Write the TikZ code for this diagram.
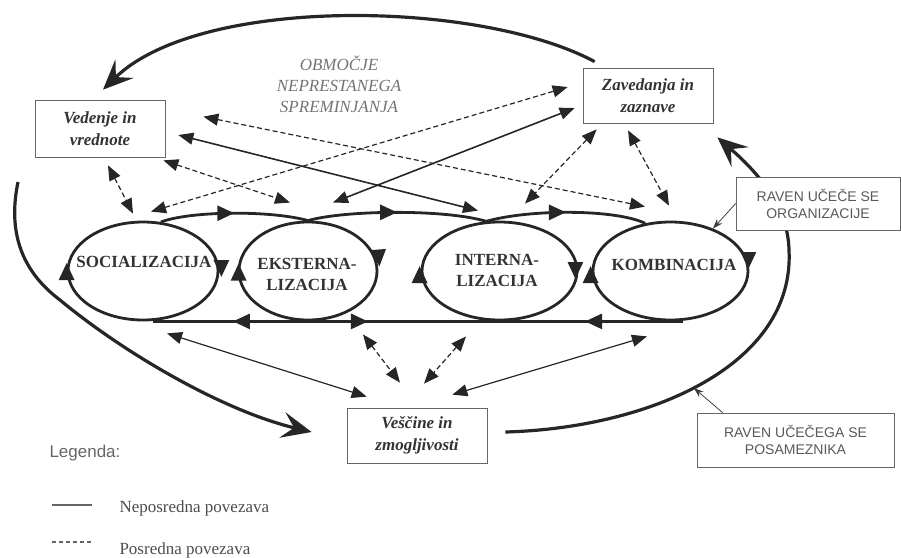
\documentclass[tikz,border=0pt]{standalone}
\usepackage{fontspec}
\setmainfont{Liberation Serif}
\setsansfont{Liberation Sans}
\usetikzlibrary{arrows.meta, shapes.geometric, decorations.markings, backgrounds}

\begin{document}
\begin{tikzpicture}[x=1pt, y=-1pt,
  box/.style={draw=black!60, line width=0.7pt, fill=white, inner sep=0pt, align=center, text=black!80, font=\fontsize{17}{22}\selectfont\itshape\bfseries},
  ravenbox/.style={draw=black!60, line width=0.7pt, fill=white, inner sep=0pt, align=center, text=black!65, font=\sffamily\fontsize{14}{17}\selectfont},
  cyc/.style={ellipse, draw=black!85, line width=2.8pt, inner sep=0pt, minimum height=98pt},
  cyclabel/.style={align=center, text=black!80, font=\fontsize{17}{21}\selectfont\bfseries},
  cyctip/.style={draw=black!85, line width=2.8pt, -{Triangle[length=17pt,width=15pt]}},
  flow/.style={draw=black!85, line width=2.8pt},
  midtip/.style={postaction={decorate}, decoration={markings, mark=at position 0.5 with {\arrow{Triangle[length=17pt,width=15pt]}}}},
  link/.style={draw=black!85, line width=1.6pt, {Triangle[length=15pt,width=12pt]}-{Triangle[length=15pt,width=12pt]}},
  thinlink/.style={link, line width=1.2pt},
  dashlink/.style={link, line width=1.2pt, dash pattern=on 5pt off 3pt},
  pointer/.style={draw=black!75, line width=0.8pt, -{Stealth[length=10pt,width=7pt]}},
  bigarc/.style={draw=black!85, line width=3.2pt, -{Stealth[length=30pt,width=26pt,inset=12pt]}}]
\useasboundingbox (0,0) rectangle (901,557);
\node[box, minimum width=130pt, minimum height=57pt] (ved) at (100,128.5) {Vedenje in\\vrednote};
\node[box, minimum width=130pt, minimum height=55pt] (zav) at (648,95.5) {Zavedanja in\\zaznave};
\node[box, minimum width=140pt, minimum height=55pt] (vesc) at (417,435.5) {Veščine in\\zmogljivosti};
\node[ravenbox, minimum width=164pt, minimum height=53pt] (organ) at (818,203.5) {RAVEN UČEČE SE\\ORGANIZACIJE};
\node[ravenbox, minimum width=197pt, minimum height=54pt] (posam) at (795.5,440) {RAVEN UČEČEGA SE\\POSAMEZNIKA};
\node[cyc, minimum width=150pt] (soc) at (143,271) {};
\node[cyc, minimum width=138pt] (eks) at (308,271) {};
\node[cyc, minimum width=155pt] (int) at (499.5,271) {};
\node[cyc, minimum width=155pt] (kom) at (670.5,271) {};
\node[cyclabel] (socT) at (144,262) {SOCIALIZACIJA};
\node[cyclabel] (eksT) at (307,274) {EKSTERNA-\\LIZACIJA};
\node[cyclabel] (intT) at (497,270) {INTERNA-\\LIZACIJA};
\node[cyclabel] (komT) at (674,265) {KOMBINACIJA};
\node[align=center, text=black!55, font=\fontsize{17}{21}\selectfont\itshape] (zone) at (339,84) {OBMOČJE\\NEPRESTANEGA\\SPREMINJANJA};
\coordinate (leftend) at (18,182);
\begin{scope}[on background layer]
\draw[bigarc] ([shift={(12,-6)}]zav.north west) .. controls (480,0) and (200,-5) .. ([shift={(3,-10)}]ved.north);
\draw[bigarc] (leftend) .. controls (8,230) and (20,270) .. (60,300) .. controls (120,350) and (220,410) .. ([shift={(-35,-3.5)}]vesc.west);
\draw[bigarc] ([shift={(18,-3.5)}]vesc.east) .. controls (650,428) and (795,365) .. (789,250) coordinate[pos=0.47] (hit) .. controls (788,205) and (755,170) .. ([shift={(4,14)}]zav.south east);
\end{scope}
\draw[pointer] (organ.west) -- (kom.45);
\draw[pointer] ([shift={(26,0)}]posam.north west) -- (hit);
\draw[flow, midtip] (soc.70) .. controls (190,211) and (270,210) .. (eks.north);
\draw[flow, midtip] (eks.north) .. controls (345,210) and (445,209) .. (int.105);
\draw[flow, midtip] (int.105) .. controls (530,209) and (615,209) .. (kom.118);
\draw[flow, postaction={decorate}, decoration={markings,
  mark=at position 0.151 with {\arrowreversed{Triangle[length=17pt,width=15pt]}},
  mark=at position 0.406 with {\arrow{Triangle[length=17pt,width=15pt]}},
  mark=at position 0.816 with {\arrowreversed{Triangle[length=17pt,width=15pt]}}}]
  ([shift={(10,0)}]soc.south) -- ([shift={(12,0)}]kom.south);
\draw[cyctip] ([shift={(0,6)}]soc.west) -- ([shift={(0,-8)}]soc.west);
\draw[cyctip] ([shift={(2,-8)}]soc.east) -- ([shift={(2,6)}]soc.east);
\draw[cyctip] ([shift={(1,6)}]eks.west) -- ([shift={(1,-7.5)}]eks.west);
\draw[cyctip] ([shift={(0,-18)}]eks.east) -- ([shift={(1,-4.5)}]eks.east);
\draw[cyctip] ([shift={(-1,8)}]int.west) -- ([shift={(-1,-5)}]int.west);
\draw[cyctip] ([shift={(-3,-6)}]int.east) -- ([shift={(-3,8)}]int.east);
\draw[cyctip] ([shift={(-1,8)}]kom.west) -- ([shift={(-1,-5)}]kom.west);
\draw[cyctip] ([shift={(-1,-16)}]kom.east) -- ([shift={(-1,-2)}]kom.east);
\draw[link] ([shift={(13,6.5)}]ved.east) -- ([shift={(-21.5,-10)}]int.north);
\draw[link] ([shift={(-8,12.5)}]zav.west) -- ([shift={(25,-18)}]eks.north);
\draw[thinlink] ([shift={(24,12)}]soc.south) -- ([shift={(20,-11)}]vesc.north west);
\draw[thinlink] ([shift={(-23.5,15)}]kom.south) -- ([shift={(-35,-13)}]vesc.north east);
\draw[dashlink] ([shift={(8,8)}]ved.south) -- ([shift={(-10,-7)}]soc.north);
\draw[dashlink] ([shift={(-2,3)}]ved.south east) -- ([shift={(-18,-18)}]eks.north);
\draw[dashlink] ([shift={(38,17)}]ved.north east) -- ([shift={(-25.5,-14)}]kom.north);
\draw[dashlink] ([shift={(8,-9)}]soc.north) -- ([shift={(-15,-8.5)}]zav.west);
\draw[dashlink] ([shift={(14,6)}]zav.south west) -- ([shift={(25.5,-17)}]int.north);
\draw[dashlink] ([shift={(-20,7)}]zav.south) -- ([shift={(-1.5,-15)}]kom.north);
\draw[dashlink] ([shift={(55,13)}]eks.south) -- ([shift={(-17,-25)}]vesc.north);
\draw[dashlink] ([shift={(-33.5,15)}]int.south) -- ([shift={(7,-24)}]vesc.north);
\node[anchor=west, text=black!60, font=\sffamily\fontsize{17}{20}\selectfont] (legend) at (46,453) {Legenda:};
\coordinate (solidA) at (52,505);
\coordinate (solidB) at (92,505);
\coordinate (dashA) at (52,542);
\coordinate (dashB) at (92,542);
\draw[black!60, line width=1.4pt] (solidA) -- (solidB);
\draw[black!60, line width=1.2pt, dash pattern=on 4pt off 3pt] (dashA) -- (dashB);
\node[anchor=west, text=black!70, font=\fontsize{17}{20}\selectfont] (solidtext) at (116,508) {Neposredna povezava};
\node[anchor=west, text=black!70, font=\fontsize{17}{20}\selectfont] (dashtext) at (116,550) {Posredna povezava};
\end{tikzpicture}
\end{document}
